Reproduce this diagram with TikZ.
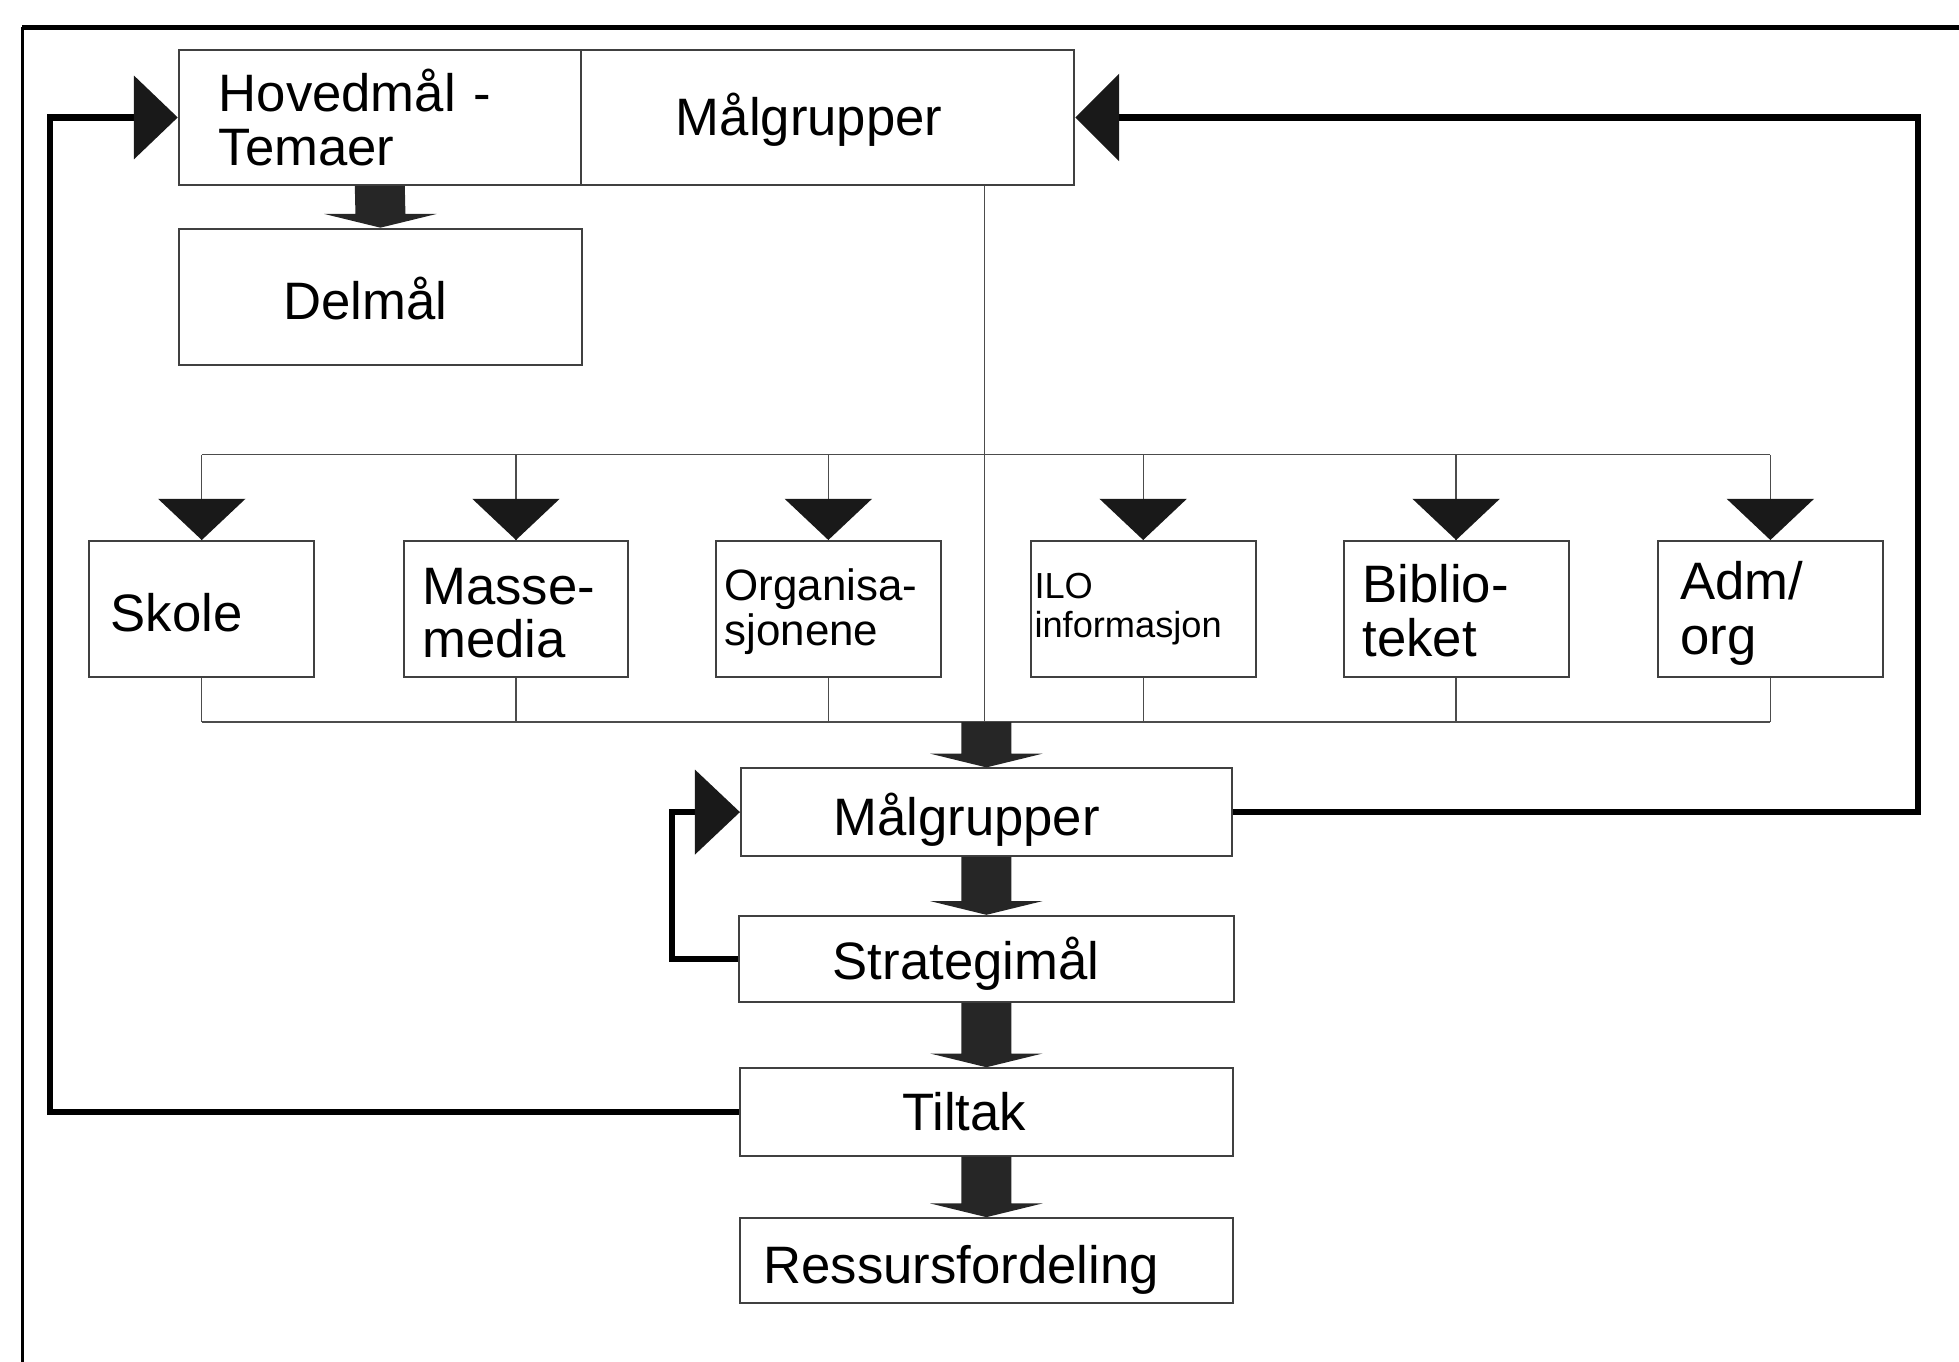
\documentclass[tikz,border=0pt]{standalone}
\usepackage{fontspec}
\setmainfont{Liberation Sans}
\usetikzlibrary{calc}
\newcommand\bigf{\fontsize{24}{24.5}\selectfont}
\newcommand\orgf{\fontsize{20}{20.7}\selectfont}
\newcommand\smallf{\fontsize{16.5}{17.5}\selectfont}
\newcommand\blockarrow[2]{\fill[blk] ($(#1)+(-20,0)$) -- ($(#2)+(-20,-11)$) -- ($(#2)+(-45,-11)$) -- (#2) -- ($(#2)+(45,-11)$) -- ($(#2)+(20,-11)$) -- ($(#1)+(20,0)$) -- cycle;}
\begin{document}
\begin{tikzpicture}[x=0.02cm,y=-0.02cm,
  box/.style={draw=black!75, line width=0.9pt, align=left, inner ysep=0pt, anchor=center, font=\bigf},
  rowbox/.style={box, minimum height=2.18cm, minimum width=3.6cm},
  bl/.style={text depth=0pt, text height=#1},
  ml/.style={text height=0pt, text depth=#1},
  bus/.style={draw=black!70, line width=0.6pt},
  fb/.style={draw=black, line width=3pt},
  tri/.style={fill=black!90},
  blk/.style={fill=black!85}]
\useasboundingbox (0,0) rectangle (1568,1090);

% frame
\draw[line width=2.2pt] (18,22) -- (1568,22);
\draw[line width=1.8pt] (18,1090) -- (18,22);

% top boxes
\node[box, minimum height=2.16cm, inner xsep=0.64cm, text width=5.16cm] (hov) at (304,94) {Hovedmål -\\Temaer};
\node[box, bl=16.8pt, minimum height=2.16cm, inner xsep=1.52cm, text width=4.86cm] (mg1) at (662.5,94) {Målgrupper};
\node[box, bl=20.6pt, minimum height=2.18cm, inner xsep=1.68cm, text width=3.1cm] (del) at (304.5,237.5) {Delmål};

% row boxes
\node[rowbox, bl=20.6pt, inner xsep=0.34cm, text width=2.92cm] (sko) at (161.5,487.5) {Skole};
\node[rowbox, ml=4.6pt, inner xsep=0.3cm, text width=3.0cm] (mas) at (413,487.5) {Masse-\\media};
\node[rowbox, ml=7.8pt, inner xsep=0.14cm, text width=3.32cm, font=\orgf] (org) at (663,487.5) {Organisa-\\sjonene};
\node[rowbox, inner xsep=0.06cm, text width=3.48cm, font=\smallf] (ilo) at (915,487.5) {ILO\\informasjon};
\node[rowbox, ml=6.1pt, inner xsep=0.3cm, text width=3.0cm] (bib) at (1165.5,487.5) {Biblio-\\teket};
\node[rowbox, ml=8.8pt, inner xsep=0.36cm, text width=2.88cm, font=\fontsize{24}{25}\selectfont] (adm) at (1417,487.5) {Adm/\\org};

% main column
\node[box, bl=21.3pt, minimum height=1.4cm, inner xsep=1.48cm, text width=4.9cm] (mg2) at (789.5,650) {Målgrupper};
\node[box, bl=19.1pt, minimum height=1.38cm, inner xsep=1.5cm, text width=4.92cm] (str) at (789.5,767.5) {Strategimål};
\node[box, minimum height=1.4cm, inner xsep=2.6cm, text width=2.7cm] (til) at (789.5,890) {Tiltak};
\node[box, bl=20.4pt, minimum height=1.36cm, inner xsep=0.38cm, text width=7.14cm] (res) at (789.5,1009) {Ressursfordeling};

% helper coordinates
\coordinate (busT) at (0,364);
\coordinate (busB) at (0,578);
\coordinate (vx) at (788,0);
\coordinate (lx) at (40,0);
\coordinate (rx) at (1535,0);
\coordinate (sx) at (538,0);
\coordinate (bb) at (mg2.north |- busB);

% buses
\draw[bus] (sko.north |- busT) -- (adm.north |- busT);
\draw[bus] (sko.south |- busB) -- (adm.south |- busB);
\foreach \n in {sko,mas,org,ilo,bib,adm} {
  \draw[bus] (\n.north |- busT) -- (\n.north);
  \draw[bus] (\n.south) -- (\n.south |- busB);
  \fill[tri] (\n.north) -- ++(-35,-33) -- ++(70,0) -- cycle;
}
\draw[bus] (mg1.south -| vx) -- (vx |- busB);

% block arrows
\blockarrow{hov.south}{del.north}
\blockarrow{bb}{mg2.north}
\blockarrow{mg2.south}{str.north}
\blockarrow{str.south}{til.north}
\blockarrow{til.south}{res.north}

% feedback loops
\draw[fb] (til.west) -| (lx |- hov.west) -- ($(hov.west)+(-35,0)$);
\fill[tri] (hov.west) -- ++(-35,-33.5) -- ++(0,67) -- cycle;
\draw[fb] (mg2.east) -| (rx |- mg1.east) -- ($(mg1.east)+(35,0)$);
\fill[tri] (mg1.east) -- ++(35,-35) -- ++(0,70) -- cycle;
\draw[fb] (str.west) -| (sx |- mg2.west) -- ($(mg2.west)+(-36,0)$);
\fill[tri] (mg2.west) -- ++(-36,-34) -- ++(0,68) -- cycle;
\end{tikzpicture}
\end{document}
